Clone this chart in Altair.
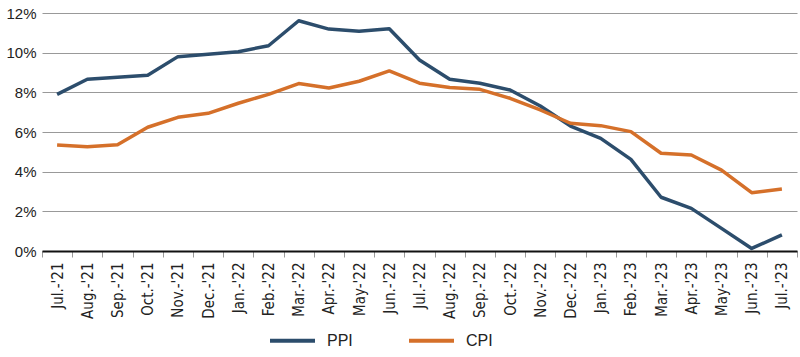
import altair as alt
import pandas as pd

months = ["Jul.-'21", "Aug.-'21", "Sep.-'21", "Oct.-'21", "Nov.-'21", "Dec.-'21",
          "Jan.-'22", "Feb.-'22", "Mar.-'22", "Apr.-'22", "May-'22", "Jun.-'22",
          "Jul.-'22", "Aug.-'22", "Sep.-'22", "Oct.-'22", "Nov.-'22", "Dec.-'22",
          "Jan.-'23", "Feb.-'23", "Mar.-'23", "Apr.-'23", "May-'23", "Jun.-'23", "Jul.-'23"]
ppi = [7.9, 8.66, 8.76, 8.86, 9.8, 9.92, 10.05, 10.35, 11.61, 11.19, 11.08, 11.21,
       9.63, 8.66, 8.46, 8.12, 7.31, 6.3, 5.68, 4.62, 2.71, 2.15, 1.14, 0.13, 0.81]
cpi = [5.35, 5.26, 5.36, 6.24, 6.74, 6.94, 7.45, 7.9, 8.44, 8.22, 8.56, 9.08,
       8.46, 8.24, 8.15, 7.7, 7.11, 6.44, 6.32, 6.02, 4.93, 4.84, 4.08, 2.94, 3.13]
series = ["PPI", "CPI"]
colors = ["#2c4d6c", "#d5702a"]

rows = []
for i, m in enumerate(months):
    rows.append({"month": m, "series": "PPI", "value": ppi[i] / 100, "order": i})
    rows.append({"month": m, "series": "CPI", "value": cpi[i] / 100, "order": i})
df = pd.DataFrame(rows)

chart = alt.Chart(df).mark_line(strokeWidth=3.5, strokeJoin="round").encode(
    x=alt.X("month:N", sort=months, title=None,
            scale=alt.Scale(paddingInner=0, paddingOuter=0),
            axis=alt.Axis(labelAngle=-90, labelFont="DejaVu Sans Condensed",
                          labelFontSize=15, labelColor="#222", tickBand="extent",
                          tickColor="#999", tickSize=6, domainColor="#111",
                          domainWidth=2, labelPadding=5, grid=False)),
    y=alt.Y("value:Q", title=None,
            scale=alt.Scale(domain=[0, 0.12], nice=False),
            axis=alt.Axis(format=".0%", values=[0, 0.02, 0.04, 0.06, 0.08, 0.1, 0.12],
                          domain=False, ticks=False, labelFont="Liberation Sans",
                          labelFontSize=15, labelColor="#222", labelPadding=6,
                          gridColor="#999", gridWidth=1.2)),
    color=alt.Color("series:N", sort=series,
                    scale=alt.Scale(domain=series, range=colors),
                    legend=alt.Legend(title=None, orient="none", direction="horizontal",
                                      legendX=226, legendY=303, symbolType="stroke",
                                      symbolSize=2025, symbolStrokeWidth=4,
                                      labelFont="Liberation Sans", labelFontSize=16,
                                      labelColor="#222", columnPadding=48,
                                      labelOffset=10)),
    order="order:Q",
).properties(
    width=755, height=238,
    autosize=alt.AutoSizeParams(type="none"),
    padding={"left": 42, "top": 13, "right": 3, "bottom": 106},
).configure_view(stroke=None)

chart.save("out.html", embed_options={"renderer": "svg", "actions": False})
